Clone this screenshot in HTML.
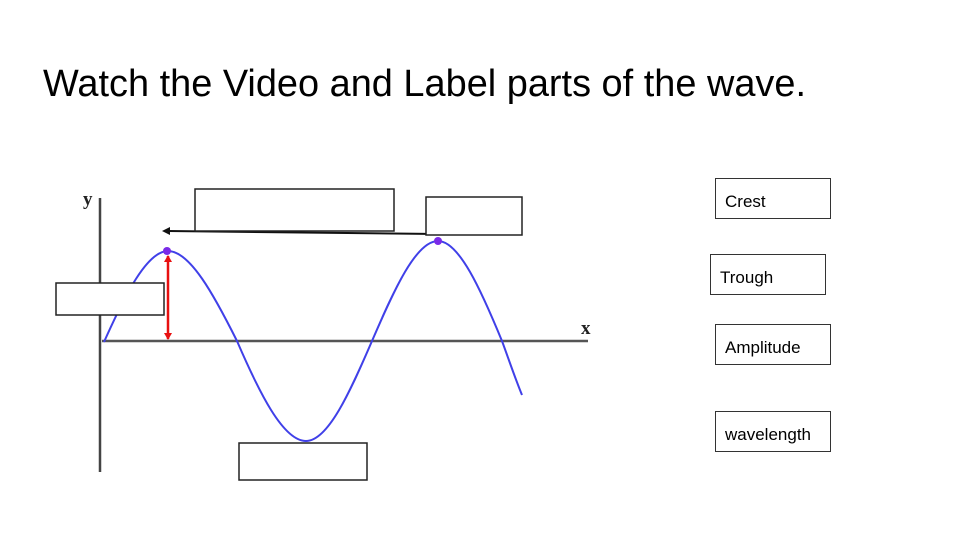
<!DOCTYPE html>
<html><head><meta charset="utf-8"><style>
html,body{margin:0;padding:0;background:#fff;}
svg{display:block;}
</style></head><body>
<svg width="978" height="550" viewBox="0 0 978 550" xmlns="http://www.w3.org/2000/svg">
<text x="43" y="96" font-family="Liberation Sans, sans-serif" font-size="38" textLength="763" lengthAdjust="spacingAndGlyphs" fill="#000">Watch the Video and Label parts of the wave.</text>
<!-- axes -->
<line x1="100" y1="198" x2="100" y2="472" stroke="#444" stroke-width="2.5"/>
<line x1="102" y1="341" x2="588" y2="341" stroke="#555" stroke-width="2.5"/>
<text x="83" y="205" font-family="Liberation Serif, serif" font-weight="bold" font-size="19" fill="#222">y</text>
<text x="581" y="334" font-family="Liberation Serif, serif" font-weight="bold" font-size="19" fill="#222">x</text>
<!-- wave -->
<path d="M104 342 C125 295 147 251 168 251 C190 251 214 295 237 341 C259 392 283 441 306 441 C328 441 350 392 372 341 C394 290 416 241 438 241 C459 241 481 290 502 341 C509 360 515 378 522 395" fill="none" stroke="#4040e8" stroke-width="2"/>
<circle cx="167" cy="251" r="4" fill="#7a2ae8"/>
<circle cx="438" cy="241" r="4" fill="#7a2ae8"/>
<!-- amplitude red arrow -->
<line x1="168" y1="256" x2="168" y2="339" stroke="#e81010" stroke-width="2.5"/>
<path d="M164 262 L168 255 L172 262Z" fill="#e81010"/>
<path d="M164 333 L168 340 L172 333Z" fill="#e81010"/>
<!-- wavelength arrow -->
<line x1="168" y1="231" x2="437" y2="234" stroke="#111" stroke-width="2"/>
<path d="M170 227 L162 231 L170 235Z" fill="#111"/>
<!-- blank boxes -->
<g fill="#fff" stroke="#222" stroke-width="1.5">
<rect x="195" y="189" width="199" height="42"/>
<rect x="426" y="197" width="96" height="38"/>
<rect x="56" y="283" width="108" height="32"/>
<rect x="239" y="443" width="128" height="37"/>
</g>
<!-- word boxes -->
<g fill="#fff" stroke="#333" stroke-width="1">
<rect x="715.5" y="178.5" width="115" height="40"/>
<rect x="710.5" y="254.5" width="115" height="40"/>
<rect x="715.5" y="324.5" width="115" height="40"/>
<rect x="715.5" y="411.5" width="115" height="40"/>
</g>
<g font-family="Liberation Sans, sans-serif" font-size="17" fill="#000">
<text x="725" y="207">Crest</text>
<text x="720" y="283">Trough</text>
<text x="725" y="353">Amplitude</text>
<text x="725" y="440">wavelength</text>
</g>
</svg>
</body></html>
